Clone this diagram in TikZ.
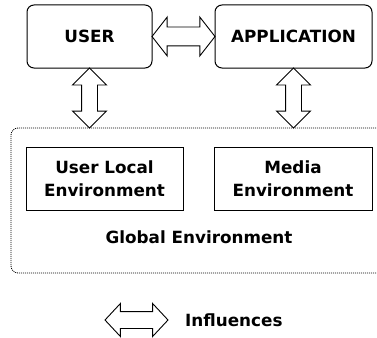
\documentclass[tikz,border=0pt]{standalone}
\usepackage{fontspec}
\setmainfont{DejaVu Sans}
\usetikzlibrary{shapes.arrows}
\begin{document}
\begin{tikzpicture}[x=1pt,y=-1pt,
  font=\bfseries\fontsize{16.8}{22.5}\selectfont,
  rbox/.style={draw,line width=1pt,rounded corners=7pt,minimum height=63pt,inner sep=0pt},
  sbox/.style={draw,line width=1pt,minimum height=63pt,inner sep=0pt,align=center},
  darrow/.style={double arrow,draw,line width=0.9pt,fill=white,inner sep=0pt,minimum width=0pt},
  glob/.style={draw,dash pattern=on 1pt off 1pt,line width=0.8pt,rounded corners=7pt,inner sep=0pt}]
\useasboundingbox (0,0) rectangle (377,337);
\node[rbox,minimum width=125pt] (user) at (89.5,36.5) {USER};
\node[rbox,minimum width=157pt] (app) at (293.5,36.5) {APPLICATION};
\node[glob,minimum width=390pt,minimum height=145pt] (global) at (206,200.5) {};
\node[sbox,minimum width=157pt] (ule) at (104.5,178.5) {User Local\\Environment};
\node[sbox,minimum width=158pt] (me) at (293,178.5) {Media\\Environment};
\node (gtext) at (199,237) {Global Environment};
\path (user.east) -- (app.west) node[midway,darrow,minimum height=63pt,inner ysep=9pt,double arrow head extend=10pt,double arrow tip angle=104] (ua) {};
\path (user.south) -- (user.south |- global.north) node[midway,darrow,rotate=90,minimum height=60pt,inner ysep=7.5pt,double arrow head extend=9pt,double arrow tip angle=90] (ug) {};
\path (app.south) -- (app.south |- global.north) node[midway,darrow,rotate=90,minimum height=60pt,inner ysep=7.5pt,double arrow head extend=9pt,double arrow tip angle=90] (ag) {};
\node[darrow,minimum height=63pt,inner ysep=8pt,double arrow head extend=8pt,double arrow tip angle=94] (legarrow) at (136.5,320) {};
\node[anchor=west,inner sep=0pt] (legtext) at (185,320) {Influences};
\end{tikzpicture}
\end{document}
